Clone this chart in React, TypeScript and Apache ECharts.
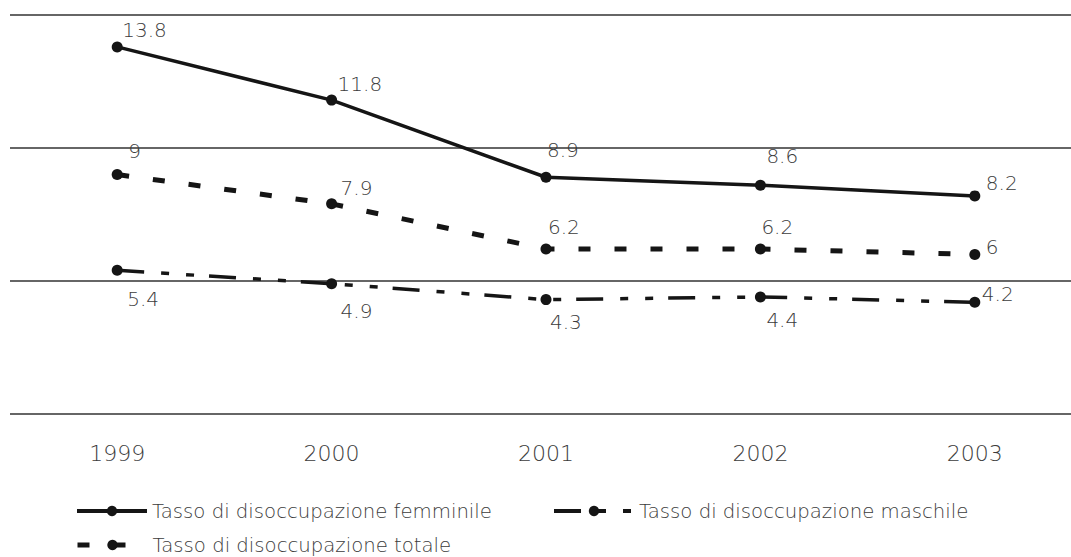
import React, { useEffect, useRef } from "react";
import * as echarts from "echarts";

const years = ["1999", "2000", "2001", "2002", "2003"];
const femminile = [13.8, 11.8, 8.9, 8.6, 8.2];
const maschile = [5.4, 4.9, 4.3, 4.4, 4.2];
const totale = [9, 7.9, 6.2, 6.2, 6];

const nameF = "Tasso di disoccupazione femminile";
const nameM = "Tasso di disoccupazione maschile";
const nameT = "Tasso di disoccupazione totale";

// label offsets (left edge / vertical centre relative to the point)
const offF = [[5, -17], [6, -16], [1, -27], [6, -29], [11, -13]];
const offT = [[11, -24], [9, -16], [2, -22], [1, -22], [11, -7]];
const offM = [[10, 29], [9, 27], [4, 22], [6, 23], [7, -8]];

const FONT = "DejaVu Sans";
const TEXT = "#3c3c3c";
const LINE = "#151515";

function withLabels(values: number[], offs: number[][]) {
  return values.map((v, i) => ({
    value: v,
    label: { offset: offs[i] },
  }));
}

const labelBase = {
  show: true,
  position: "inside" as const,
  align: "left" as const,
  verticalAlign: "middle" as const,
  color: TEXT,
  fontFamily: FONT,
  fontWeight: 200,
  fontSize: 20,
};

export default function App() {
  const ref = useRef<HTMLDivElement>(null);
  useEffect(() => {
    document.body.style.margin = "0";
    const chart = echarts.init(ref.current!, null, { renderer: "svg" });
    const legendText = { color: TEXT, fontFamily: FONT, fontWeight: 200, fontSize: 19.7 };
    const legendCommon = {
      itemWidth: 70,
      itemHeight: 13,
      itemGap: 0,
      padding: 0,
      textStyle: legendText,
    };
    chart.setOption({
      animation: false,
      backgroundColor: "#fff",
      grid: { left: 10, width: 1072, top: 15, bottom: 143, outerBoundsMode: "none", containLabel: false },
      legend: [
        { ...legendCommon, data: [nameF], left: 75, top: 501, lineStyle: { width: 4 } },
        { ...legendCommon, data: [nameM], left: 552, top: 501, itemWidth: 80, lineStyle: { width: 4 } },
        { ...legendCommon, data: [nameT], left: 75, top: 535, lineStyle: { width: 5 } },
      ],
      xAxis: {
        type: "category",
        data: years,
        axisLine: { show: false },
        axisTick: { show: false },
        axisLabel: { color: TEXT, fontFamily: FONT, fontWeight: 200, fontSize: 22, margin: 28 },
      },
      yAxis: {
        type: "value",
        min: 0,
        max: 15,
        interval: 5,
        axisLabel: { show: false },
        axisLine: { show: false },
        axisTick: { show: false },
        splitLine: { lineStyle: { color: "#333", width: 1.5 } },
      },
      series: [
        {
          name: nameF,
          type: "line",
          data: withLabels(femminile, offF),
          symbol: "circle",
          symbolSize: 11,
          itemStyle: { color: LINE },
          lineStyle: { color: LINE, width: 3.5 },
          label: labelBase,
        },
        {
          name: nameM,
          type: "line",
          data: withLabels(maschile, offM),
          symbol: "circle",
          symbolSize: 11,
          itemStyle: { color: LINE },
          lineStyle: { color: LINE, width: 3.5, type: [27, 17, 8, 17, 8, 15] },
          label: labelBase,
        },
        {
          name: nameT,
          type: "line",
          data: withLabels(totale, offT),
          symbol: "circle",
          symbolSize: 11,
          itemStyle: { color: LINE },
          lineStyle: { color: LINE, width: 5, type: [12, 24] },
          label: labelBase,
        },
      ],
    });
    return () => chart.dispose();
  }, []);
  return <div ref={ref} style={{ width: 1071, height: 557 }} />;
}
